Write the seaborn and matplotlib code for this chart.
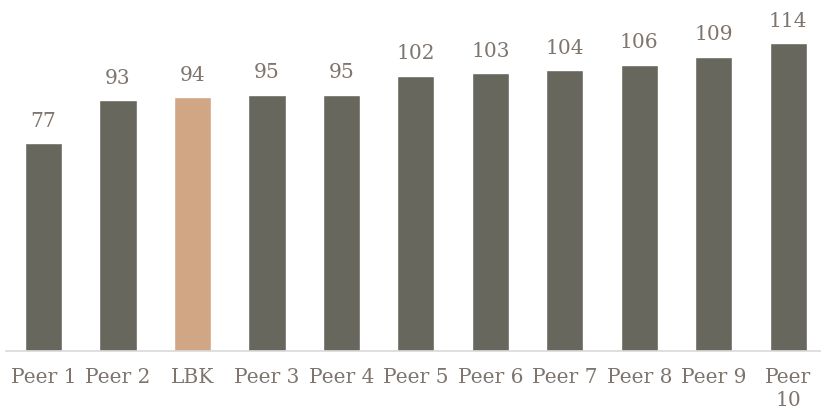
import textwrap
import matplotlib
matplotlib.use("Agg")
import matplotlib.pyplot as plt
import seaborn as sns
import pandas as pd

categories = ["Peer 1", "Peer 2", "LBK", "Peer 3", "Peer 4", "Peer 5",
              "Peer 6", "Peer 7", "Peer 8", "Peer 9", "Peer 10"]
values = [77, 93, 94, 95, 95, 102, 103, 104, 106, 109, 114]
highlight = "LBK"

BAR = "#67675d"
HIGHLIGHT = "#d0a684"
TEXT = "#7d756e"

sns.set_theme(style="white")
plt.rcParams["font.family"] = ["DejaVu Serif"]

df = pd.DataFrame({"category": categories, "value": values})
palette = {c: (HIGHLIGHT if c == highlight else BAR) for c in categories}

fig = plt.figure(figsize=(8.21, 4.11), dpi=100)
ax = fig.add_axes([6 / 821, 1 - 350.7 / 411, 815 / 821, 350.7 / 411])

sns.barplot(data=df, x="category", y="value", hue="category", palette=palette,
            order=categories, width=0.5, legend=False, saturation=1, ax=ax)

ax.set_ylim(0, 130.1)
ax.set_xlim(-0.503, 10.44)

for i, v in enumerate(values):
    ax.annotate(f"{v}", (i, v), xytext=(0, 9), textcoords="offset points",
                ha="center", va="bottom", color=TEXT, fontsize=14.5)

ax.set_xticks(range(len(categories)))
ax.set_xticklabels([textwrap.fill(c, 6) for c in categories],
                   color=TEXT, fontsize=14.5, linespacing=1.25, va="top")
ax.tick_params(axis="x", length=0, pad=12.5)
ax.set_yticks([])
ax.set_xlabel("")
ax.set_ylabel("")

for side in ["top", "left", "right"]:
    ax.spines[side].set_visible(False)
ax.spines["bottom"].set_color("#d9d9d9")
ax.spines["bottom"].set_linewidth(1.2)

fig.savefig("out.png", dpi=100)
